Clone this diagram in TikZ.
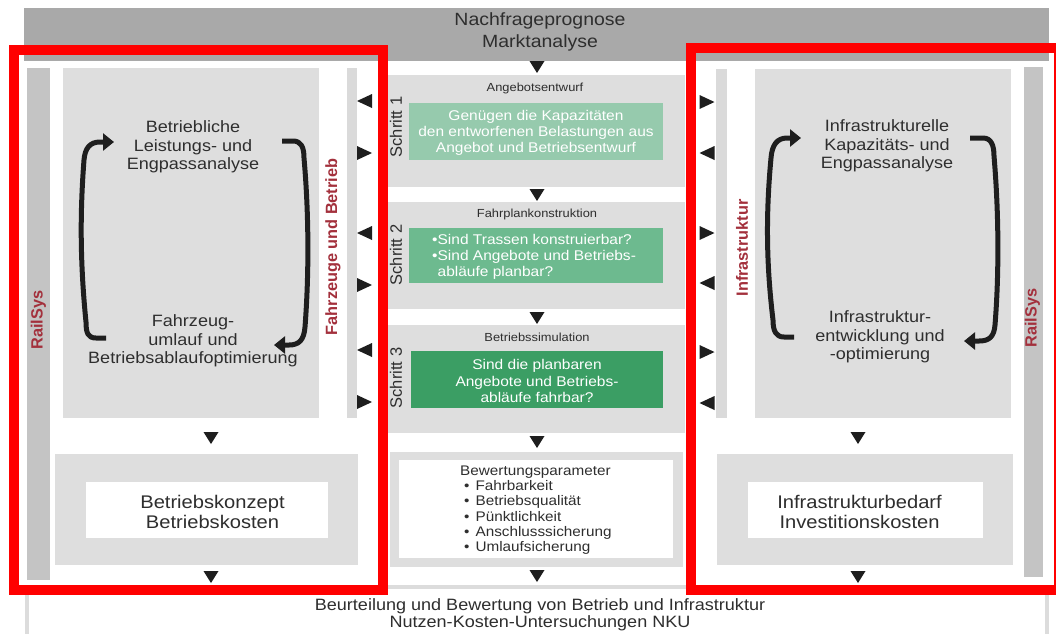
\documentclass[tikz,border=0pt]{standalone}
\usepackage{fontspec}
\setmainfont{Liberation Sans}[FakeStretch=1.1]
\newfontfamily\vertfont{Liberation Sans}
\usetikzlibrary{arrows.meta}

\definecolor{barTop}{HTML}{A9A9A9}
\definecolor{panel}{HTML}{DEDEDE}
\definecolor{railbar}{HTML}{C4C4C4}
\definecolor{thinbar}{HTML}{DADADA}
\definecolor{frameline}{HTML}{DCDCDC}
\definecolor{txt}{HTML}{2E2E2E}
\definecolor{wine}{HTML}{A3303C}
\definecolor{greenA}{HTML}{96CAAD}
\definecolor{greenB}{HTML}{6DBA8F}
\definecolor{greenC}{HTML}{3B9E64}
\definecolor{markc}{HTML}{1E1E1E}
\definecolor{hl}{HTML}{FF0000}

\tikzset{
  box/.style={rectangle, inner sep=0pt, outer sep=0pt, draw=none},
  panelbox/.style={box, fill=panel},
  whitebox/.style={box, fill=white},
  bigtext/.style={inner sep=0pt, text=txt, align=center, font=\fontsize{16.4}{18.4}\selectfont},
  toptext/.style={inner sep=0pt, text=txt, align=center, font=\fontsize{17.7}{22}\selectfont},
  lowtext/.style={inner sep=0pt, text=txt, align=center, font=\fontsize{16.4}{17.2}\selectfont},
  resulttext/.style={inner sep=0pt, text=txt, align=center, font=\fontsize{18.3}{20}\selectfont},
  headtext/.style={inner sep=0pt, text=txt, font=\fontsize{11.7}{13}\selectfont},
  greentext/.style={inner sep=0pt, text=white, font=\fontsize{14.1}{16.3}\selectfont},
  listtext/.style={inner sep=0pt, text=txt, align=left, font=\fontsize{13.9}{15.3}\selectfont},
  steplbl/.style={inner sep=0pt, text=txt, rotate=90, font=\vertfont\fontsize{16.5}{18}\selectfont},
  sidelbl/.style={inner sep=0pt, text=wine, rotate=90, font=\vertfont\bfseries\fontsize{16.3}{18}\selectfont},
  cyc/.style={line width=5pt, draw=markc, line cap=butt, line join=round,
    -{Triangle[length=11pt,width=17pt]}},
  hlframe/.style={draw=hl, line width=10pt},
  tridown/.pic={\fill[markc] (-7.5,-6) -- (7.5,-6) -- (0,6) -- cycle;},
  trileft/.pic={\fill[markc] (7.5,-7) -- (7.5,7) -- (-7.5,0) -- cycle;},
  triright/.pic={\fill[markc] (-7.5,-7) -- (-7.5,7) -- (7.5,0) -- cycle;},
}

\begin{document}
\begin{tikzpicture}[x=1pt,y=-1pt]
\useasboundingbox (0,0) rectangle (1056,633);
\fill[white] (0,0) rectangle (1056,633);

% demand forecast bar
\node[box, fill=barTop, minimum width=1025, minimum height=53] (topbar) at (536.5,34.5) {};
\node[toptext] (toptxt) at (540,32) {Nachfrageprognose\\Marktanalyse};

% assessment frame at the bottom
\draw[frameline, line width=4pt] (26.5,645) -- (26.5,587) -- (1047,587) -- (1047,645);
\node[lowtext] (result) at (540,614.5) {Beurteilung und Bewertung von Betrieb und Infrastruktur\\Nutzen-Kosten-Untersuchungen NKU};

% ---------------- central column ----------------
\node[panelbox, minimum width=298, minimum height=112] (s1) at (536,131) {};
\node[panelbox, minimum width=298, minimum height=107] (s2) at (536,255.5) {};
\node[panelbox, minimum width=298, minimum height=108] (s3) at (536,379) {};

\node[headtext] (h1) at (535,88) {Angebotsentwurf};
\node[headtext] (h2) at (537,214) {Fahrplankonstruktion};
\node[headtext] (h3) at (537,337) {Betriebssimulation};

\node[box, fill=greenA, minimum width=254, minimum height=57] (g1) at (536,131.5) {};
\node[greentext, align=center] (g1t) at (536,133) {Genügen die Kapazitäten\\den entworfenen Belastungen aus\\Angebot und Betriebsentwurf};
\node[box, fill=greenB, minimum width=254, minimum height=55] (g2) at (536,255.5) {};
\node[greentext, align=left, anchor=west] (g2t) at (432,257) {\textbullet Sind Trassen konstruierbar?\\\textbullet Sind Angebote und Betriebs-\\\phantom{\textbullet}abläufe planbar?};
\node[box, fill=greenC, minimum width=252, minimum height=57] (g3) at (537,379.5) {};
\node[greentext, align=center] (g3t) at (537,381) {Sind die planbaren\\Angebote und Betriebs-\\abläufe fahrbar?};

\node[steplbl] (st1) at (396,127) {Schritt 1};
\node[steplbl] (st2) at (396,255) {Schritt 2};
\node[steplbl] (st3) at (396,378) {Schritt 3};

\node[panelbox, minimum width=293, minimum height=115] (evalo) at (536.5,509.5) {};
\node[whitebox, minimum width=274, minimum height=98] (evali) at (536,509) {};
\node[listtext, anchor=west] (evalt) at (460,510) {Bewertungsparameter\\
\hspace*{4pt}\textbullet\hspace{6pt}Fahrbarkeit\\
\hspace*{4pt}\textbullet\hspace{6pt}Betriebsqualität\\
\hspace*{4pt}\textbullet\hspace{6pt}Pünktlichkeit\\
\hspace*{4pt}\textbullet\hspace{6pt}Anschlusssicherung\\
\hspace*{4pt}\textbullet\hspace{6pt}Umlaufsicherung};

\foreach \yy in {67,195,318,442,576} \pic at (537,\yy) {tridown};

% ---------------- operations side ----------------
\node[box, fill=railbar, minimum width=23, minimum height=512] (railL) at (38.5,324) {};
\node[sidelbl] (railLt) at (38.5,320) {RailSys};
\node[panelbox, minimum width=256, minimum height=350] (opsP) at (191,243) {};
\node[box, fill=thinbar, minimum width=10, minimum height=350] (opsB) at (352,243) {};
\node[sidelbl] (opsBt) at (333,247) {Fahrzeuge und Betrieb};

\node[bigtext] (opsA) at (193,147) {Betriebliche\\Leistungs- und\\Engpassanalyse};
\node[bigtext] (opsO) at (193,341) {Fahrzeug-\\umlauf und\\Betriebsablaufoptimierung};

\coordinate (oLs) at (106,338);
\coordinate (oLe) at (114,142);
\draw[cyc] (oLs) -- (96,338) .. controls (88,338) and (86,333) .. (86,322)
  .. controls (80,262) and (80,212) .. (84,160)
  .. controls (85,148) and (90,142) .. (100,142) -- (oLe);
\coordinate (oRs) at (282,141);
\coordinate (oRe) at (274,345);
\draw[cyc] (oRs) -- (293,141) .. controls (301,141) and (304,147) .. (304,158)
  .. controls (309,215) and (309,275) .. (305,327)
  .. controls (304,340) and (299,345) .. (289,345) -- (oRe);

\node[panelbox, minimum width=303, minimum height=111] (opsRo) at (206.5,509.5) {};
\node[whitebox, minimum width=242, minimum height=56] (opsRi) at (207,510) {};
\node[resulttext] (opsRt) at (212.5,512) {Betriebskonzept\\Betriebskosten};

\pic at (211,438) {tridown};
\pic at (211,577) {tridown};

\foreach \yy in {101,233,350} \pic at (364.5,\yy) {trileft};
\foreach \yy in {153,285,402} \pic at (364.5,\yy) {triright};

% ---------------- infrastructure side ----------------
\node[box, fill=railbar, minimum width=19, minimum height=510] (railR) at (1033.5,322) {};
\node[sidelbl] (railRt) at (1032.5,318) {RailSys};
\node[panelbox, minimum width=256, minimum height=349] (infP) at (883,243.5) {};
\node[box, fill=thinbar, minimum width=11, minimum height=349] (infB) at (721.5,243.5) {};
\node[sidelbl] (infBt) at (742,248) {Infrastruktur};

\node[bigtext] (infA) at (887,146) {Infrastrukturelle\\Kapazitäts- und\\Engpassanalyse};
\node[bigtext] (infO) at (880,337) {Infrastruktur-\\entwicklung und\\-optimierung};

\coordinate (iLs) at (794,337);
\coordinate (iLe) at (801,138);
\draw[cyc] (iLs) -- (784,337) .. controls (776,337) and (773,331) .. (773,320)
  .. controls (766,262) and (766,212) .. (771,158)
  .. controls (772,145) and (777,138) .. (787,138) -- (iLe);
\coordinate (iRs) at (970,138);
\coordinate (iRe) at (964,341);
\draw[cyc] (iRs) -- (983,138) .. controls (991,138) and (994,145) .. (994,156)
  .. controls (999,215) and (999,275) .. (995,325)
  .. controls (994,337) and (989,341) .. (979,341) -- (iRe);

\node[panelbox, minimum width=296, minimum height=111] (infRo) at (865,509.5) {};
\node[whitebox, minimum width=235, minimum height=56] (infRi) at (865.5,510) {};
\node[resulttext] (infRt) at (859.5,512) {Infrastrukturbedarf\\Investitionskosten};

\pic at (858,438) {tridown};
\pic at (858,577) {tridown};

\foreach \yy in {102,233,352} \pic at (707,\yy) {triright};
\foreach \yy in {153,283,403} \pic at (707,\yy) {trileft};

% ---------------- highlight frames ----------------
\draw[hlframe] (13.5,50) rectangle (383,590);
\draw[hlframe] (691,48) rectangle (1059,590);
\end{tikzpicture}
\end{document}
